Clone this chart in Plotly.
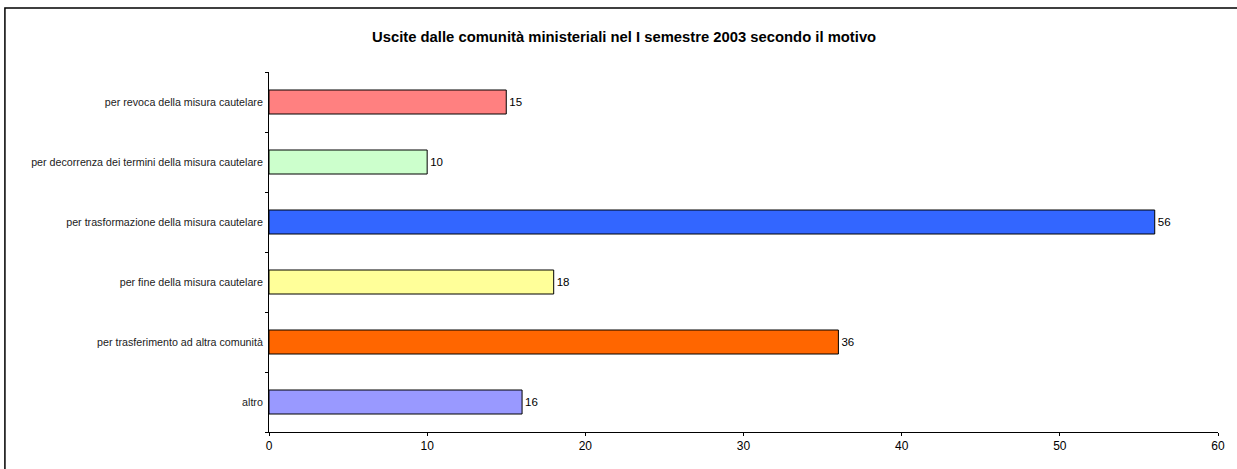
import plotly.graph_objects as go

categories = [
    "altro",
    "per trasferimento ad altra comunità",
    "per fine della misura cautelare",
    "per trasformazione della misura cautelare",
    "per decorrenza dei termini della misura cautelare",
    "per revoca della misura cautelare",
]
values = [16, 36, 18, 56, 10, 15]
colors = ["#9999FF", "#FF6600", "#FFFF99", "#3366FF", "#CCFFCC", "#FF8080"]
x_ticks = [0, 10, 20, 30, 40, 50, 60]
title = "Uscite dalle comunità ministeriali nel I semestre 2003 secondo il motivo"

W, H = 1237, 469
L, R, T, B = 269, 19.3, 72, 37
pw, ph = W - L - R, H - T - B
FONT = "Liberation Sans, Arial, sans-serif"

fig = go.Figure(go.Bar(
    y=categories, x=values, orientation="h",
    marker=dict(color=colors, line=dict(color="black", width=1)),
    width=0.4,
    text=[str(v) for v in values], textposition="outside",
    textfont=dict(family=FONT, size=11.5, color="black"),
    cliponaxis=False,
))

fig.update_layout(
    width=W, height=H,
    margin=dict(l=L, r=R, t=T, b=B),
    paper_bgcolor="white", plot_bgcolor="white",
    showlegend=False,
    title=dict(text="<b>" + title + "</b>", x=(624 - L) / pw, xref="paper",
               xanchor="center", y=1 - 37 / H, yanchor="middle",
               font=dict(family=FONT, size=14.8, color="black")),
    xaxis=dict(range=[0, 60], tickvals=x_ticks, showgrid=False, zeroline=False,
               showline=True, linecolor="black", linewidth=1,
               ticks="outside", ticklen=3, tickcolor="black",
               tickfont=dict(family=FONT, size=12, color="black")),
    yaxis=dict(type="category", categoryorder="array", categoryarray=categories,
               showgrid=False, zeroline=False, showline=True, linecolor="black",
               linewidth=1, ticks="outside", ticklen=3, tickcolor="black",
               tickson="boundaries", ticklabelstandoff=3,
               tickfont=dict(family=FONT, size=10.7, color="#222222")),
    font=dict(family=FONT),
)

# outer chart border (top/left visible; right/bottom beyond the canvas)
fig.add_shape(type="rect", xref="paper", yref="paper",
              x0=(5 - L) / pw, x1=(1250 - L) / pw,
              y0=(H - B - 480) / ph, y1=(H - B - 8) / ph,
              line=dict(color="black", width=1.5), fillcolor="rgba(0,0,0,0)",
              layer="below")

fig.write_html(
    "out.html", config={"displayModeBar": False},
    post_script=("document.body.style.margin='0';"
                 "document.body.style.overflow='hidden';"
                 "document.documentElement.style.overflow='hidden';"),
)
